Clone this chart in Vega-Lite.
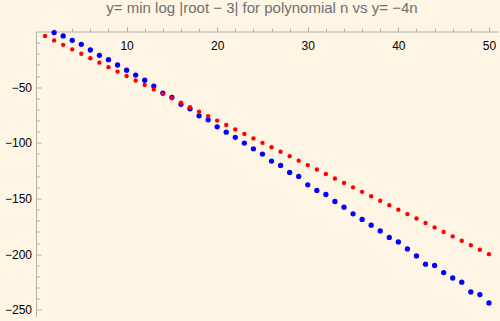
{
  "$schema": "https://vega.github.io/schema/vega-lite/v6.json",
  "width": 462,
  "height": 285,
  "autosize": "none",
  "padding": {"left": 36, "top": 31.5, "right": 2, "bottom": 4},
  "background": "#fef5e5",
  "config": {"view": {"stroke": null}},
  "title": {"text": "y= min log |root − 3| for polynomial n vs y= −4n", "font": "Liberation Sans", "fontSize": 15, "fontWeight": "normal", "color": "#707070", "anchor": "middle", "dx": -5, "offset": 10},
  "data": {"values": [
    {"n": 2, "y": -1.0, "s": "min log"},
    {"n": 3, "y": -4.0, "s": "min log"},
    {"n": 4, "y": -7.9, "s": "min log"},
    {"n": 5, "y": -11.5, "s": "min log"},
    {"n": 6, "y": -16.6, "s": "min log"},
    {"n": 7, "y": -21.4, "s": "min log"},
    {"n": 8, "y": -25.3, "s": "min log"},
    {"n": 9, "y": -30.1, "s": "min log"},
    {"n": 10, "y": -34.8, "s": "min log"},
    {"n": 11, "y": -39.1, "s": "min log"},
    {"n": 12, "y": -43.8, "s": "min log"},
    {"n": 13, "y": -49.0, "s": "min log"},
    {"n": 14, "y": -55.3, "s": "min log"},
    {"n": 15, "y": -59.1, "s": "min log"},
    {"n": 16, "y": -65.4, "s": "min log"},
    {"n": 17, "y": -69.4, "s": "min log"},
    {"n": 18, "y": -75.7, "s": "min log"},
    {"n": 19, "y": -79.3, "s": "min log"},
    {"n": 20, "y": -85.6, "s": "min log"},
    {"n": 21, "y": -90.4, "s": "min log"},
    {"n": 22, "y": -95.1, "s": "min log"},
    {"n": 23, "y": -100.2, "s": "min log"},
    {"n": 24, "y": -105.4, "s": "min log"},
    {"n": 25, "y": -110.1, "s": "min log"},
    {"n": 26, "y": -116.4, "s": "min log"},
    {"n": 27, "y": -120.3, "s": "min log"},
    {"n": 28, "y": -126.6, "s": "min log"},
    {"n": 29, "y": -130.2, "s": "min log"},
    {"n": 30, "y": -137.7, "s": "min log"},
    {"n": 31, "y": -142.8, "s": "min log"},
    {"n": 32, "y": -146.4, "s": "min log"},
    {"n": 33, "y": -152.7, "s": "min log"},
    {"n": 34, "y": -157.8, "s": "min log"},
    {"n": 35, "y": -163.8, "s": "min log"},
    {"n": 36, "y": -168.8, "s": "min log"},
    {"n": 37, "y": -174.0, "s": "min log"},
    {"n": 38, "y": -179.1, "s": "min log"},
    {"n": 39, "y": -185.0, "s": "min log"},
    {"n": 40, "y": -189.0, "s": "min log"},
    {"n": 41, "y": -195.3, "s": "min log"},
    {"n": 42, "y": -201.6, "s": "min log"},
    {"n": 43, "y": -209.0, "s": "min log"},
    {"n": 44, "y": -210.2, "s": "min log"},
    {"n": 45, "y": -216.5, "s": "min log"},
    {"n": 46, "y": -221.4, "s": "min log"},
    {"n": 47, "y": -225.2, "s": "min log"},
    {"n": 48, "y": -233.9, "s": "min log"},
    {"n": 49, "y": -236.3, "s": "min log"},
    {"n": 50, "y": -243.8, "s": "min log"},
    {"n": 1, "y": -4, "s": "-4n"},
    {"n": 2, "y": -8, "s": "-4n"},
    {"n": 3, "y": -12, "s": "-4n"},
    {"n": 4, "y": -16, "s": "-4n"},
    {"n": 5, "y": -20, "s": "-4n"},
    {"n": 6, "y": -24, "s": "-4n"},
    {"n": 7, "y": -28, "s": "-4n"},
    {"n": 8, "y": -32, "s": "-4n"},
    {"n": 9, "y": -36, "s": "-4n"},
    {"n": 10, "y": -40, "s": "-4n"},
    {"n": 11, "y": -44, "s": "-4n"},
    {"n": 12, "y": -48, "s": "-4n"},
    {"n": 13, "y": -52, "s": "-4n"},
    {"n": 14, "y": -56, "s": "-4n"},
    {"n": 15, "y": -60, "s": "-4n"},
    {"n": 16, "y": -64, "s": "-4n"},
    {"n": 17, "y": -68, "s": "-4n"},
    {"n": 18, "y": -72, "s": "-4n"},
    {"n": 19, "y": -76, "s": "-4n"},
    {"n": 20, "y": -80, "s": "-4n"},
    {"n": 21, "y": -84, "s": "-4n"},
    {"n": 22, "y": -88, "s": "-4n"},
    {"n": 23, "y": -92, "s": "-4n"},
    {"n": 24, "y": -96, "s": "-4n"},
    {"n": 25, "y": -100, "s": "-4n"},
    {"n": 26, "y": -104, "s": "-4n"},
    {"n": 27, "y": -108, "s": "-4n"},
    {"n": 28, "y": -112, "s": "-4n"},
    {"n": 29, "y": -116, "s": "-4n"},
    {"n": 30, "y": -120, "s": "-4n"},
    {"n": 31, "y": -124, "s": "-4n"},
    {"n": 32, "y": -128, "s": "-4n"},
    {"n": 33, "y": -132, "s": "-4n"},
    {"n": 34, "y": -136, "s": "-4n"},
    {"n": 35, "y": -140, "s": "-4n"},
    {"n": 36, "y": -144, "s": "-4n"},
    {"n": 37, "y": -148, "s": "-4n"},
    {"n": 38, "y": -152, "s": "-4n"},
    {"n": 39, "y": -156, "s": "-4n"},
    {"n": 40, "y": -160, "s": "-4n"},
    {"n": 41, "y": -164, "s": "-4n"},
    {"n": 42, "y": -168, "s": "-4n"},
    {"n": 43, "y": -172, "s": "-4n"},
    {"n": 44, "y": -176, "s": "-4n"},
    {"n": 45, "y": -180, "s": "-4n"},
    {"n": 46, "y": -184, "s": "-4n"},
    {"n": 47, "y": -188, "s": "-4n"},
    {"n": 48, "y": -192, "s": "-4n"},
    {"n": 49, "y": -196, "s": "-4n"},
    {"n": 50, "y": -200, "s": "-4n"}
  ]},
  "mark": {"type": "point", "filled": true, "opacity": 1},
  "encoding": {
    "x": {"field": "n", "type": "quantitative", "scale": {"domain": [0, 51], "nice": false, "zero": false},
      "axis": {"orient": "bottom", "offset": -285, "title": null, "grid": false,
        "values": [2,4,6,8,10,12,14,16,18,20,22,24,26,28,30,32,34,36,38,40,42,44,46,48,50],
        "labelExpr": "datum.value % 10 === 0 ? datum.label : ''",
        "tickSize": {"condition": {"test": "datum.value % 10 === 0", "value": -5}, "value": -3},
        "domainColor": "#b0b0b0", "tickColor": "#b0b0b0", "labelColor": "#000000",
        "labelFont": "Liberation Sans", "labelFontSize": 12, "labelPadding": 14, "labelFlush": false, "labelOverlap": false}},
    "y": {"field": "y", "type": "quantitative", "scale": {"domain": [-256, 0], "nice": false, "zero": false},
      "axis": {"title": null, "grid": false,
        "values": [-250,-240,-230,-220,-210,-200,-190,-180,-170,-160,-150,-140,-130,-120,-110,-100,-90,-80,-70,-60,-50,-40,-30,-20,-10],
        "labelExpr": "datum.value % 50 === 0 ? datum.label : ''",
        "tickSize": {"condition": {"test": "datum.value % 50 === 0", "value": -5.5}, "value": -3.3},
        "domainColor": "#b0b0b0", "tickColor": "#b0b0b0", "labelColor": "#000000",
        "labelFont": "Liberation Sans", "labelFontSize": 12, "labelPadding": 10, "labelFlush": false, "labelOverlap": false}},
    "color": {"field": "s", "type": "nominal", "scale": {"domain": ["min log", "-4n"], "range": ["#0000ff", "#ff0000"]}, "legend": null},
    "size": {"field": "s", "type": "nominal", "scale": {"domain": ["min log", "-4n"], "range": [28, 19]}, "legend": null}
  }
}
